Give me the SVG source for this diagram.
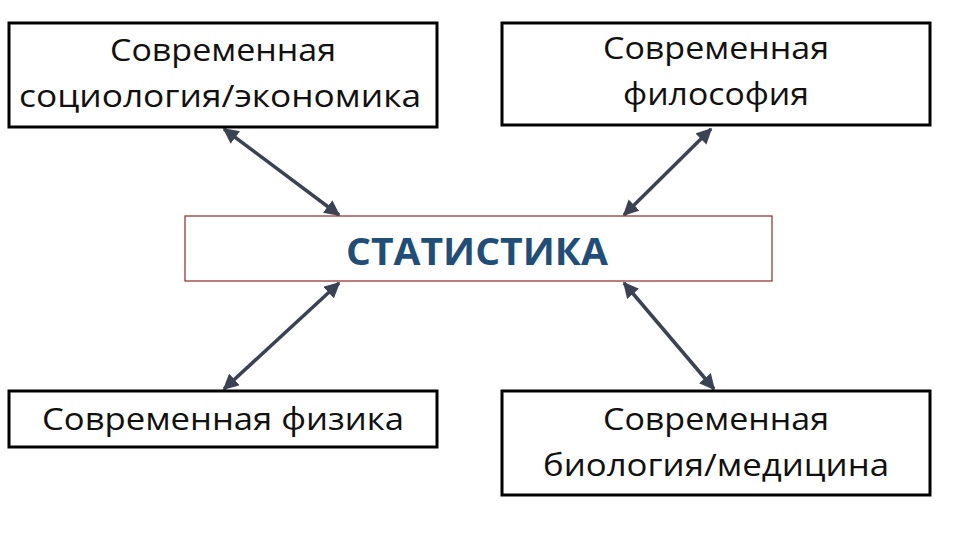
<svg xmlns="http://www.w3.org/2000/svg" width="960" height="540" viewBox="0 0 960 540">
<style>
.box{fill:#fff;stroke:#000;stroke-width:3}
.t{font-family:"Open Sans","DejaVu Sans",sans-serif;font-size:31px;fill:#111;text-anchor:middle}
.c{stroke:#3a4254;stroke-width:3.5;marker-start:url(#a);marker-end:url(#a)}
</style>
<defs><marker id="a" viewBox="0 0 10 10" refX="9" refY="5" markerWidth="4.5" markerHeight="4.5" orient="auto-start-reverse" markerUnits="strokeWidth"><path d="M0,0L10,5L0,10z" fill="#3a4254"/></marker></defs>
<rect width="960" height="540" fill="#fff"/>
<g id="connectors">
<line class="c" x1="224" y1="129" x2="339" y2="215"/>
<line class="c" x1="711" y1="129" x2="624" y2="215"/>
<line class="c" x1="339" y1="283" x2="224" y2="389"/>
<line class="c" x1="624" y1="283" x2="714" y2="389"/>
</g>
<g id="center"><rect x="185" y="216" width="587" height="65" fill="#fff" stroke="#8b2a2a" stroke-width="1.2"/>
<text x="477" y="265" font-family="'Open Sans','DejaVu Sans',sans-serif" font-weight="bold" font-size="38" fill="#1f4e79" text-anchor="middle" textLength="262" lengthAdjust="spacingAndGlyphs">СТАТИСТИКА</text></g>
<g id="tl"><rect class="box" x="9" y="23" width="428" height="104"/><text class="t" x="223" y="61" textLength="226" lengthAdjust="spacingAndGlyphs">Современная</text><text class="t" x="220" y="107" textLength="402" lengthAdjust="spacingAndGlyphs">социология/экономика</text></g>
<g id="tr"><rect class="box" x="502" y="23" width="428" height="102"/><text class="t" x="716" y="59" textLength="226" lengthAdjust="spacingAndGlyphs">Современная</text><text class="t" x="716" y="105" textLength="186" lengthAdjust="spacingAndGlyphs">философия</text></g>
<g id="bl"><rect class="box" x="9" y="391" width="428" height="56"/><text class="t" x="223" y="430" textLength="362" lengthAdjust="spacingAndGlyphs">Современная физика</text></g>
<g id="br"><rect class="box" x="502" y="391" width="428" height="104"/><text class="t" x="716" y="430" textLength="226" lengthAdjust="spacingAndGlyphs">Современная</text><text class="t" x="716" y="476" textLength="346" lengthAdjust="spacingAndGlyphs">биология/медицина</text></g>
</svg>
